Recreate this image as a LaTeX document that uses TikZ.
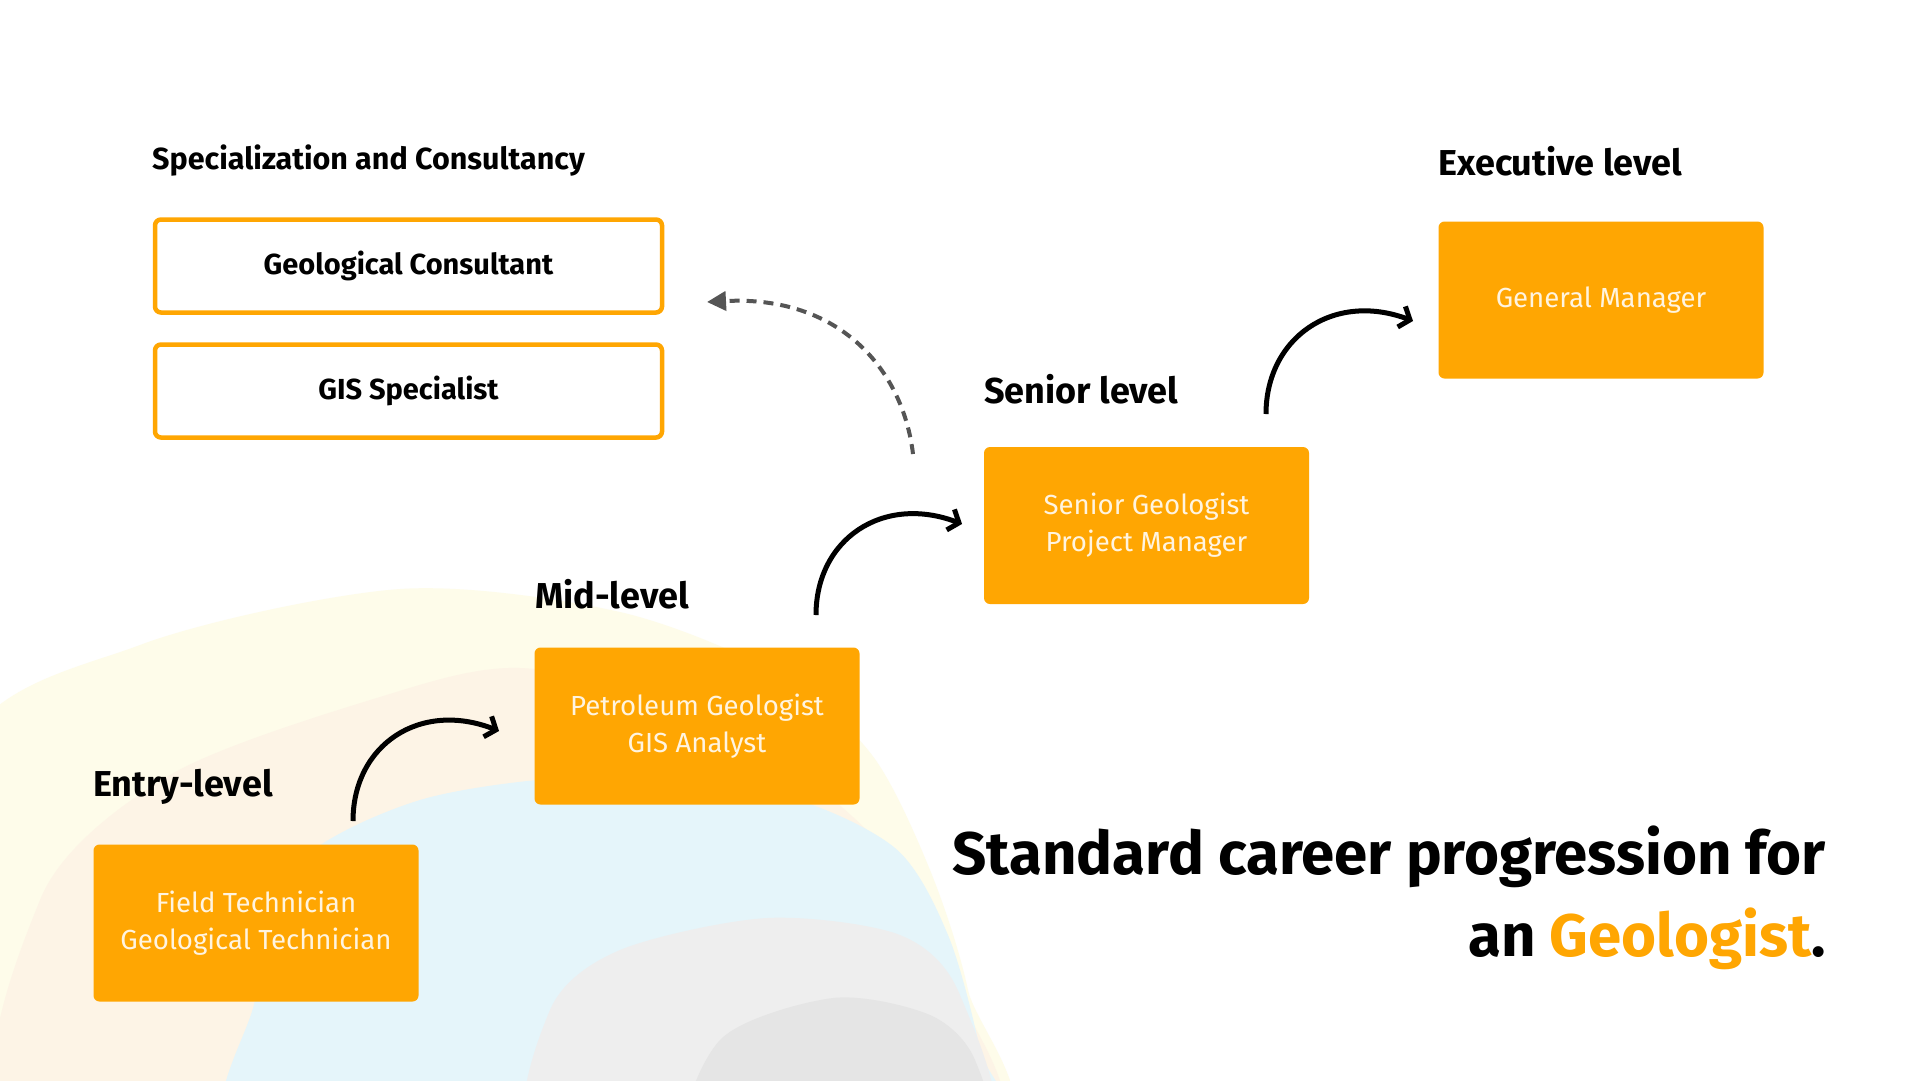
\documentclass[tikz,border=0pt]{standalone}
\usepackage{fontspec}
\setmainfont{Fira Sans}
\usetikzlibrary{arrows.meta}
\definecolor{orng}{HTML}{FFA602}
\definecolor{boxtext}{HTML}{FFF4E0}
\definecolor{arrowgrey}{HTML}{555555}
\definecolor{bgyellow}{HTML}{FEFCEA}
\definecolor{bgcream}{HTML}{FDF4E6}
\definecolor{bgblue}{HTML}{E5F5FA}
\definecolor{bggrey}{HTML}{EEEEEE}
\definecolor{bgdgrey}{HTML}{E5E5E5}
\begin{document}
\begin{tikzpicture}[x=1pt,y=-1pt,
  levelbox/.style={fill=orng, rounded corners=6pt, minimum width=325pt, minimum height=157pt,
    inner sep=0pt, text=boxtext, align=center, font=\fontsize{27.6}{37}\selectfont},
  outlinebox/.style={draw=orng, line width=4.5pt, rounded corners=6pt, fill=white,
    minimum width=507pt, minimum height=93pt, inner sep=0pt,
    font=\bfseries\fontsize{29}{35}\selectfont},
  lvl/.style={anchor=base west, inner sep=0pt, font=\bfseries\fontsize{36}{43}\selectfont},
  sublvl/.style={anchor=base west, inner sep=0pt, font=\bfseries\fontsize{30.5}{36}\selectfont},
  titletext/.style={anchor=base east, inner sep=0pt, font=\bfseries\fontsize{60}{72}\selectfont},
  prog/.style={line width=5pt, black, -{Straight Barb[length=9pt,width=22pt]}},
  backarrow/.style={draw=arrowgrey, line width=4pt, dash pattern=on 10pt off 7pt,
    -{Triangle[length=19pt,width=19pt]}}
]
\useasboundingbox (0,0) rectangle (1920,1080);
\fill[white] (0,0) rectangle (1920,1080);

% background blobs
\begin{scope}
\clip (0,0) rectangle (1920,1080);
\fill[bgyellow] plot[smooth cycle] coordinates {(-60,1150) (-40,755) (140,645) (400,589) (620,612) (780,675) (872,755) (930,870) (968,990) (990,1150) (500,1250)};
\fill[bgcream] plot[smooth cycle] coordinates {(20,1150) (40,900) (170,775) (380,697) (520,668) (700,708) (830,797) (915,885) (958,990) (980,1150) (500,1250)};
\fill[bgblue] plot[smooth cycle] coordinates {(240,1150) (255,1000) (290,870) (420,800) (600,776) (780,795) (895,848) (948,935) (980,1050) (992,1150) (600,1230)};
\fill[bggrey] plot[smooth cycle] coordinates {(535,1150) (550,1010) (620,950) (767,918) (900,935) (960,995) (988,1150) (760,1220)};
\fill[bgdgrey] plot[smooth cycle] coordinates {(690,1150) (720,1040) (833,998) (930,1015) (975,1060) (985,1150) (840,1220)};
\end{scope}

% level labels
\node[sublvl] (lspec) at (152,169) {Specialization and Consultancy};
\node[lvl] (lexec) at (1438,175) {Executive level};
\node[lvl] (lsen) at (984,403) {Senior level};
\node[lvl] (lmid) at (535,608) {Mid-level};
\node[lvl] (lentry) at (93,796) {Entry-level};

% outline boxes
\node[outlinebox] (gc) at (408.5,266) {Geological Consultant};
\node[outlinebox] (gis) at (408.5,391) {GIS Specialist};

% orange boxes
\node[levelbox] (entry) at (256,923) {Field Technician\\Geological Technician};
\node[levelbox] (mid) at (697,726) {Petroleum Geologist\\GIS Analyst};
\node[levelbox] (sen) at (1146.5,525.5) {Senior Geologist\\Project Manager};
\node[levelbox] (gm) at (1601,300) {General Manager};

% arrow end points
\coordinate (a1s) at (353,821);
\coordinate (a1e) at (499,731);
\coordinate (a2s) at (816,615);
\coordinate (a2e) at (962,524);
\coordinate (a3s) at (1266,414);
\coordinate (a3e) at (1413,321);
\coordinate (bs) at (913,454);
\coordinate (be) at (707,302);

\draw[prog] (a1s) .. controls (353,745) and (420,700) .. (a1e);
\draw[prog] (a2s) .. controls (816,539) and (883,494) .. (a2e);
\draw[prog] (a3s) .. controls (1266,338) and (1333,291) .. (a3e);
\draw[backarrow] (bs) .. controls (903,370) and (840,295) .. (be);

% title
\node[titletext] (t1) at (1826,874) {Standard career progression for};
\node[titletext] (t2) at (1826,956) {an \textcolor{orng}{Geologist}.};
\end{tikzpicture}
\end{document}
